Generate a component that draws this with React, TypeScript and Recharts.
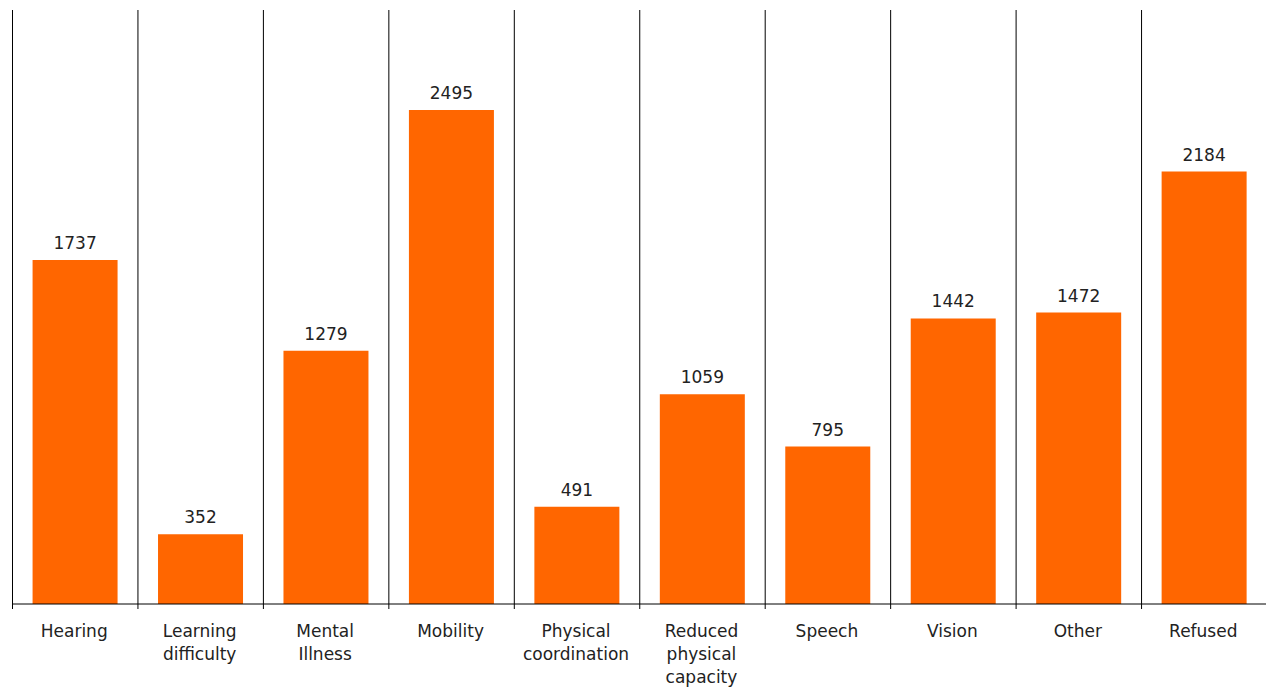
import React from 'react';
import { BarChart, Bar, XAxis, YAxis, ReferenceLine, LabelList, Text } from 'recharts';

const categories = [
  'Hearing',
  'Learning difficulty',
  'Mental Illness',
  'Mobility',
  'Physical coordination',
  'Reduced physical capacity',
  'Speech',
  'Vision',
  'Other',
  'Refused',
];
const counts = [1737, 352, 1279, 2495, 491, 1059, 795, 1442, 1472, 2184];

const chartData = categories.map((name, i) => ({ name, count: counts[i] }));

const FONT = '"DejaVu Sans", Verdana, sans-serif';

// label plus a small tick at the left edge of each band (and right edge of the last one)
// eslint-disable-next-line @typescript-eslint/no-explicit-any
const CategoryTick = (props: any) => {
  const { x, y, payload, index } = props;
  const half = payload?.offset ?? 62.75;
  const last = index === categories.length - 1;
  return (
    <g>
      <line x1={x - half} x2={x - half} y1={y} y2={y + 5} stroke="#000" />
      {last && <line x1={x + half} x2={x + half} y1={y} y2={y + 5} stroke="#000" />}
      <Text
        x={x - 1}
        y={y + 21}
        width={104}
        textAnchor="middle"
        verticalAnchor="start"
        lineHeight={23}
        style={{ fontSize: 17, fontFamily: FONT }}
        fill="#222"
      >
        {payload.value}
      </Text>
    </g>
  );
};

export default function App() {
  return (
    <div style={{ width: 1266, height: 680 }}>
      <BarChart
        width={1266}
        height={680}
        data={chartData}
        margin={{ top: 2, right: 7, bottom: 4, left: 4.5 }}
        barCategoryGap="16%"
        style={{ fontFamily: FONT }}
      >
        {categories.map((c) => (
          <ReferenceLine key={c} x={c} position="start" stroke="#000" strokeWidth={1} />
        ))}
        <ReferenceLine x={categories[categories.length - 1]} position="end" stroke="#000" strokeWidth={1} />
        <XAxis
          dataKey="name"
          interval={0}
          height={80}
          tickLine={false}
          tickSize={0}
          tickMargin={0}
          axisLine={{ stroke: '#000' }}
          tick={<CategoryTick />}
        />
        <YAxis hide domain={[0, 3000]} />
        <Bar dataKey="count" fill="#FF6600" isAnimationActive={false}>
          <LabelList dataKey="count" position="top" offset={11} fontSize={17} fill="#222" fontFamily={FONT} />
        </Bar>
      </BarChart>
    </div>
  );
}
